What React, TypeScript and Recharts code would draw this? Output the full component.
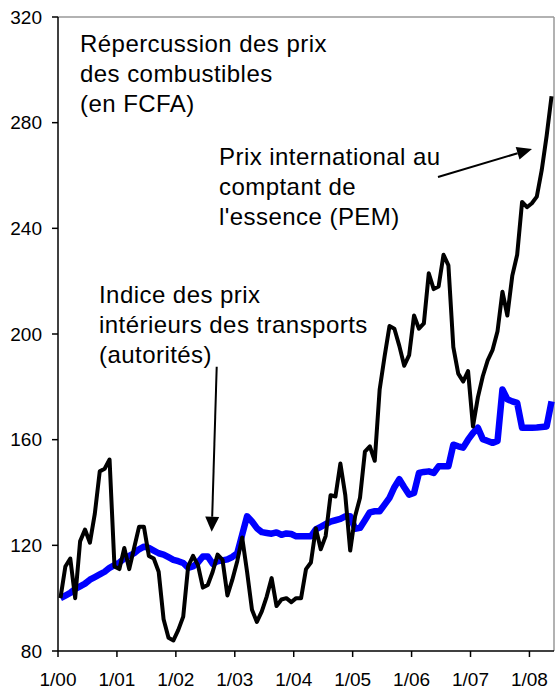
import React from 'react';
import { LineChart, Line, XAxis, YAxis, ReferenceLine } from 'recharts';

// monthly values, 1/00 .. 5/08
const pemPrice = [
  100, 112, 115, 100, 121.5, 126, 121, 132, 148, 149, 152.5, 112,
  111, 119, 111, 119, 127, 127, 116, 115, 110, 92, 85, 84,
  88, 93, 112, 116, 112.5, 104, 105, 110, 116.5, 114.5, 101, 107,
  114, 123, 110, 95.6, 91, 95, 100.6, 107.6, 97, 99.5, 100, 98.5,
  100, 100, 111, 113.5, 126.5, 118.5, 123.5, 139, 138.5, 151, 139, 118,
  131, 138, 155.5, 157.5, 152, 179, 191.5, 203, 202, 195.5, 188, 192,
  207, 202, 204, 223, 217, 218, 230, 226, 195, 185, 182, 186,
  165, 176, 184, 190, 194, 201, 216, 207, 222, 230, 250, 248,
  249.5, 252, 262, 275, 290,
];

const transportIndex = [
  100, 101, 102, 103.5, 104.5, 105.5, 107, 108, 109, 110, 111.5, 112.5,
  113.5, 115, 116, 117, 118.5, 119.5, 119, 118, 117, 116.5, 115.5, 114.5,
  114, 113.3, 111.5, 112, 113.5, 115.8, 115.8, 113, 114, 114.3, 114.7, 115.6,
  117, 124, 131, 129, 126.5, 125, 124.7, 124.4, 124.9, 124, 124.5, 124.3,
  123.4, 123.4, 123.4, 123.4, 126, 127, 128, 129, 129.5, 130, 131, 131,
  126.3, 126.6, 129.5, 132.5, 132.9, 132.9, 135.4, 138, 142, 145, 142, 139.2,
  139.8, 147.4, 147.8, 148, 147.4, 149.9, 149.9, 149.9, 158.1, 157.5, 157, 160,
  162.5, 164.5, 160.2, 159.5, 158.8, 159.5, 179, 175.3, 174.5, 173.9, 164.5, 164.5,
  164.5, 164.6, 164.8, 165, 174.5,
];

const yearLabels = ['1/00', '1/01', '1/02', '1/03', '1/04', '1/05', '1/06', '1/07', '1/08'];
const yTicks = [80, 120, 160, 200, 240, 280, 320];

const data = pemPrice.map((v, i) => ({ m: i, pem: v, idx: transportIndex[i] }));
const xTicks = yearLabels.map((_, i) => i * 12 - 0.5);

const font = "'Liberation Sans', Arial, sans-serif";
const tickStyle = { fontFamily: font, fontSize: 19, fill: '#000' };

export default function App() {
  return (
    <div style={{ position: 'absolute', left: 0, top: 0, width: 555, height: 691, background: '#fff' }}>
      <LineChart width={555} height={691} data={data} margin={{ top: 17, right: 1, bottom: 0, left: 0 }}>
        <XAxis
          dataKey="m"
          type="number"
          domain={[-0.5, 100.5]}
          ticks={xTicks}
          tickFormatter={(v: number) => yearLabels[Math.round((v + 0.5) / 12)]}
          height={40}
          tickSize={6}
          tickMargin={16}
          stroke="#000"
          strokeWidth={1.5}
          tick={tickStyle}
          interval={0}
        />
        <YAxis
          domain={[80, 320]}
          ticks={yTicks}
          width={58}
          tickSize={6}
          tickMargin={10}
          stroke="#000"
          strokeWidth={1.5}
          tick={tickStyle}
          interval={0}
        />
        <ReferenceLine y={320} stroke="#999" strokeWidth={1.5} />
        <ReferenceLine x={100.5} stroke="#999" strokeWidth={1.5} />
        <Line
          type="linear"
          dataKey="idx"
          stroke="#0000ff"
          strokeWidth={6.5}
          dot={false}
          strokeLinejoin="round"
          isAnimationActive={false}
        />
        <Line
          type="linear"
          dataKey="pem"
          stroke="#000"
          strokeWidth={4}
          dot={false}
          strokeLinejoin="round"
          isAnimationActive={false}
        />
      </LineChart>
      <svg
        width={555}
        height={691}
        style={{ position: 'absolute', left: 0, top: 0, pointerEvents: 'none' }}
      >
        <g fontFamily={font} fontSize={24} fill="#000" letterSpacing={0.45}>
          <text x={80} y={52}>Répercussion des prix</text>
          <text x={80} y={82}>des combustibles</text>
          <text x={80} y={112}>(en FCFA)</text>
          <text x={219} y={165}>Prix international au</text>
          <text x={219} y={195}>comptant de</text>
          <text x={219} y={225}>l'essence (PEM)</text>
          <text x={99} y={303}>Indice des prix</text>
          <text x={99} y={333}>intérieurs des transports</text>
          <text x={99} y={363}>(autorités)</text>
        </g>
        <line x1={438} y1={177} x2={517.6} y2={153.3} stroke="#000" strokeWidth={2} />
        <polygon points="532,149 519.5,159.5 515.7,147.1" fill="#000" />
        <line x1={216.7} y1={366.7} x2={212.2} y2={516.7} stroke="#000" strokeWidth={2} />
        <polygon points="211.7,531.7 219.2,516.9 205.2,516.5" fill="#000" />
      </svg>
    </div>
  );
}
